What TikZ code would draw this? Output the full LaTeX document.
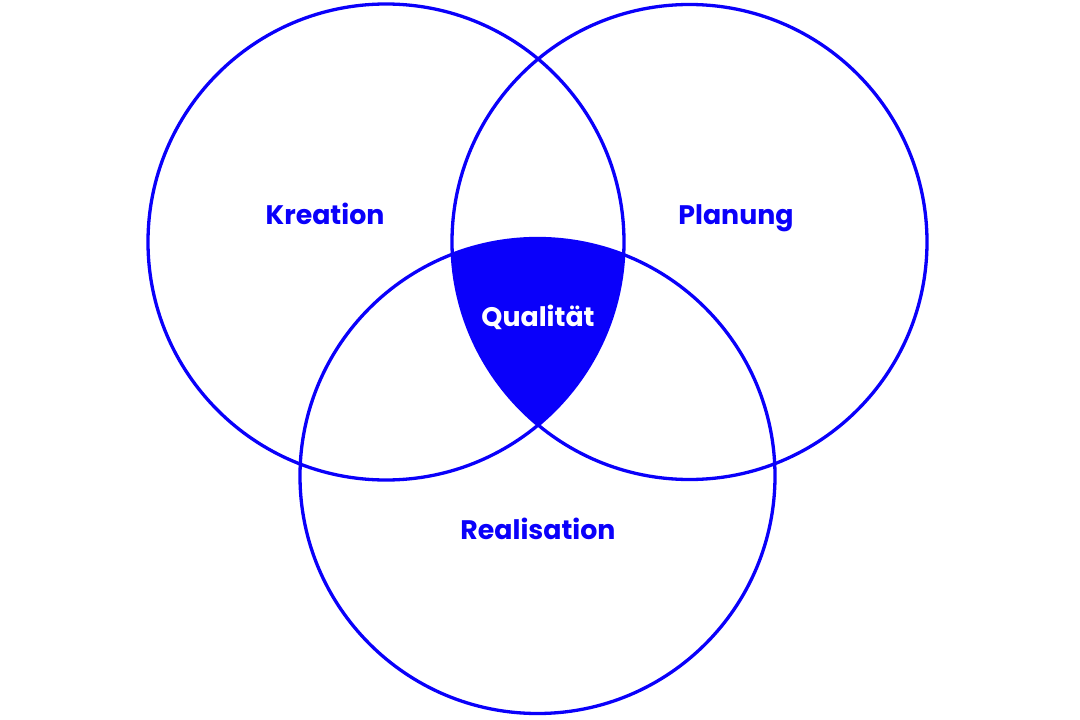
\documentclass[tikz,border=0pt]{standalone}
\usepackage{fontspec}
\setmainfont{Poppins}
\definecolor{vblue}{RGB}{10,0,250}
\begin{document}
\begin{tikzpicture}[x=1pt,y=-1pt,
  ring/.style={draw=vblue,line width=3.3pt},
  lab/.style={text=vblue,font=\fontsize{26.8}{30}\selectfont\bfseries,inner sep=0pt,anchor=base},
  wlab/.style={lab,text=white}]
\useasboundingbox (0,0) rectangle (1080,720);
\begin{scope}
  \clip (386,242) circle (238pt);
  \clip (689.5,242) circle (237.5pt);
  \fill[vblue] (537.5,476) circle (237.5pt);
\end{scope}
\draw[ring] (386,242) circle (238pt);
\draw[ring] (689.5,242) circle (237.5pt);
\draw[ring] (537.5,476) circle (237.5pt);
\node[lab] (k) at (325,224) {Kreation};
\node[lab] (p) at (736,224) {Planung};
\node[lab] (r) at (538,539) {Realisation};
\node[wlab] (q) at (538,326) {Qualität};
\end{tikzpicture}
\end{document}
